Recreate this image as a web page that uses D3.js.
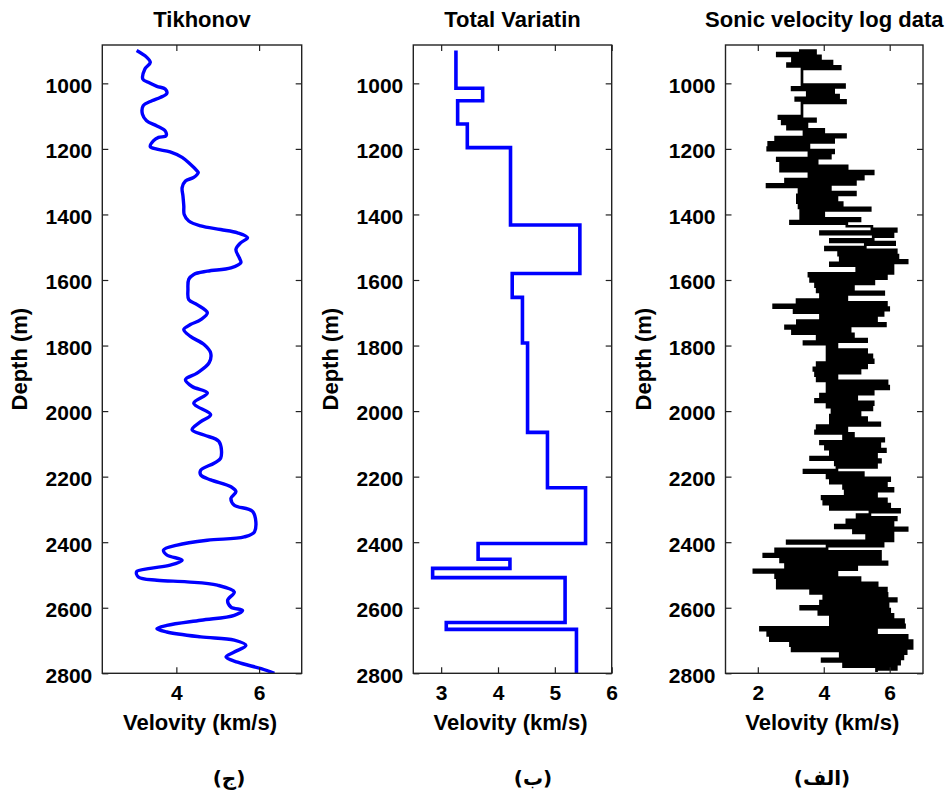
<!DOCTYPE html>
<html>
<head>
<meta charset="utf-8">
<script src="https://cdn.jsdelivr.net/npm/d3@7"></script>
<style>
  body { margin: 0; background: #fff; }
  svg { display: block; font-family: "Liberation Sans", Arial, sans-serif; }
</style>
</head>
<body>
<svg id="chart" width="952" height="794"></svg>
<script>
// ---- data -------------------------------------------------------------
const depthTicks = [1000, 1200, 1400, 1600, 1800, 2000, 2200, 2400, 2600, 2800];

// Tikhonov-regularised velocity profile (depth in m, velocity in km/s)
const tikDepth = [900, 920, 936, 956, 987, 997, 1009, 1017, 1031, 1043,
  1053, 1068, 1094, 1114, 1130, 1145, 1160, 1165, 1175, 1193,
  1201, 1209, 1226, 1247, 1267, 1272, 1287, 1298, 1318, 1344,
  1374, 1400, 1420, 1435, 1446, 1456, 1471, 1486, 1507, 1532,
  1547, 1563, 1573, 1583, 1598, 1629, 1660, 1675, 1700, 1721,
  1736, 1751, 1772, 1797, 1823, 1853, 1884, 1904, 1925, 1945,
  1976, 2011, 2032, 2057, 2073, 2093, 2144, 2159, 2180, 2195,
  2210, 2231, 2246, 2266, 2287, 2307, 2368, 2384, 2394, 2409,
  2424, 2439, 2455, 2470, 2480, 2490, 2506, 2516, 2521, 2531,
  2552, 2577, 2598, 2608, 2623, 2638, 2654, 2664, 2674, 2689,
  2699, 2715, 2735, 2750, 2766, 2786, 2800];
const tikVelocity = [3.04, 3.28, 3.37, 3.24, 3.19, 3.32, 3.53, 3.73, 3.77, 3.61,
  3.41, 3.20, 3.18, 3.28, 3.53, 3.73, 3.75, 3.57, 3.45, 3.37,
  3.53, 3.85, 4.14, 4.34, 4.50, 4.53, 4.42, 4.22, 4.14, 4.16,
  4.18, 4.19, 4.30, 4.59, 5.07, 5.48, 5.72, 5.56, 5.44, 5.52,
  5.56, 5.32, 4.75, 4.42, 4.30, 4.28, 4.30, 4.50, 4.75, 4.59,
  4.34, 4.18, 4.34, 4.67, 4.83, 4.79, 4.50, 4.22, 4.38, 4.75,
  4.42, 4.83, 4.59, 4.38, 4.67, 5.03, 5.07, 4.91, 4.59, 4.59,
  4.83, 5.32, 5.44, 5.32, 5.40, 5.85, 5.89, 5.64, 4.75, 4.02,
  3.69, 3.77, 4.14, 3.85, 3.37, 3.04, 3.08, 3.53, 4.26, 4.99,
  5.40, 5.24, 5.32, 5.60, 5.40, 4.59, 3.77, 3.53, 3.77, 4.59,
  5.40, 5.68, 5.40, 5.20, 5.48, 6.05, 6.37];

// Total-variation result: blocky layers (top depth of each layer, layer velocity)
const tvLayerTop = [900, 1015, 1053, 1124, 1196, 1432, 1580, 1653, 1792, 2065,
  2234, 2404, 2452, 2480, 2508, 2645, 2666];
const tvVelocity = [3.26, 3.73, 3.29, 3.46, 4.22, 5.44, 4.25, 4.43, 4.52, 4.87,
  5.54, 3.65, 4.21, 2.85, 5.18, 3.09, 5.38];
const tvBottom = 2800;

// Sonic log samples: every 8 m starting at 900 m
const sonicStart = 900, sonicStep = 8;
const sonicVelocity = [
  3.25, 3.75, 2.59, 3.9, 3.05, 4.25, 2.9, 4.5, 3.34, 3.34,      // 900
  3.34, 3.34, 3.34, 3.34, 4.63, 3.04, 4.3, 3.5, 4.45, 3.15,     // 980
  4.66, 3.34, 3.34, 3.34, 3.34, 3.34, 2.64, 3.75, 2.74, 3.49,   // 1060
  2.9, 4.0, 3.4, 4.66, 2.54, 4.3, 2.33, 3.55, 2.3, 4.3,         // 1140
  3.55, 4.2, 2.59, 3.8, 2.69, 4.71, 2.69, 5.5, 3.55, 5.2,       // 1220
  2.84, 4.96, 2.28, 4.2, 3.25, 4.96, 3.2, 4.4, 3.2, 4.56,       // 1300
  3.25, 5.41, 3.3, 4.0, 3.3, 5.1, 2.99, 4.7, 5.46, 6.2,         // 1380
  3.9, 6.1, 5.5, 4.2, 6.15, 5.26, 4.05, 6.2, 4.45, 6.25,        // 1460
  4.5, 6.53, 4.2, 6.1, 5.0, 6.1, 3.55, 5.9, 3.6, 5.52,          // 1540
  3.75, 4.9, 3.8, 5.82, 3.9, 4.7, 3.19, 5.9, 2.48, 5.97,        // 1620
  3.1, 5.8, 3.9, 5.6, 3.2, 5.87, 2.84, 4.8, 3.05, 4.9,          // 1700
  3.8, 5.3, 3.4, 4.4, 4.1, 5.3, 4.1, 5.46, 4.1, 5.5,            // 1780
  3.8, 5.3, 3.7, 5.1, 3.75, 4.4, 3.8, 5.92, 4.1, 5.97,          // 1860
  4.1, 5.5, 3.9, 5.0, 3.75, 5.5, 4.1, 5.46, 4.25, 5.1,          // 1940
  4.2, 5.3, 4.2, 5.7, 3.8, 4.7, 3.75, 4.9, 4.6, 5.82,           // 2020
  3.9, 5.7, 4.05, 5.87, 4.2, 5.6, 3.6, 5.72, 4.35, 5.6,         // 2100
  4.4, 3.4, 5.2, 4.1, 6.0, 4.2, 5.9, 4.6, 6.1, 4.65,            // 2180
  5.6, 3.95, 5.9, 4.0, 6.0, 4.2, 6.3, 5.4, 5.01, 6.2,           // 2260
  4.7, 6.1, 4.35, 6.53, 4.9, 6.1, 5.3, 6.1, 2.89, 5.8,          // 2340
  4.1, 2.54, 5.72, 2.18, 5.72, 2.69, 5.92, 2.84, 5.0, 1.88,     // 2420
  4.4, 2.54, 5.1, 2.59, 5.62, 2.59, 5.9, 3.6, 5.92, 4.0,        // 2500
  6.2, 3.9, 5.95, 3.3, 6.0, 3.85, 6.1, 4.2, 6.42, 4.2,          // 2580
  6.45, 2.08, 5.6, 2.3, 6.53, 2.38, 6.68, 2.99, 6.68, 3.04,     // 2660
  6.5, 4.5, 6.4, 3.95, 6.3, 4.6, 6.2, 5.6                       // 2740
];

const titles = ["Tikhonov", "Total Variatin", "Sonic velocity log data"];
const captions = ["(ج)", "(ب)", "(الف)"];
const xTickSets = [[4, 6], [3, 4, 5, 6], [2, 4, 6]];
const xDomains = [[2.21, 7.03], [2.51, 6.0], [1.02, 7.01]];
const xLabel = "Velovity (km/s)";
const yLabel = "Depth (m)";
const depthDomain = [883, 2800];

// ---- build series -----------------------------------------------------
const tikSeries = tikDepth.map((d, i) => ({ d, v: tikVelocity[i] }));

const tvSeries = [];
tvLayerTop.forEach((layerTop, i) => {
  const layerBottom = i + 1 < tvLayerTop.length ? tvLayerTop[i + 1] : tvBottom;
  tvSeries.push({ d: layerTop, v: tvVelocity[i] });
  tvSeries.push({ d: layerBottom, v: tvVelocity[i] });
});

const sonicSeries = sonicVelocity.map((v, i) => ({ d: sonicStart + i * sonicStep, v }));

// ---- layout -----------------------------------------------------------
const plotTop = 45, plotBottom = 673.3;
const panelLeft = [102.3, 413.3, 725.5];
const panelRight = [301.7, 611.7, 923.0];
const captionX = [229, 533, 822];

const svg = d3.select("#chart");
svg.append("rect").attr("width", 952).attr("height", 794).attr("fill", "#fff");

const yScale = d3.scaleLinear().domain(depthDomain).range([plotTop, plotBottom]);

// the log is drawn as horizontal excursions at each sample depth
const panels = [
  { series: tikSeries, color: "#0000ff", width: 3.4, curve: d3.curveCatmullRom.alpha(0.5), join: "round" },
  { series: tvSeries, color: "#0000ff", width: 3.6, curve: d3.curveLinear, join: "miter" },
  { series: sonicSeries, color: "#000000", width: 2.7, curve: d3.curveStepAfter, join: "miter" }
];

panels.forEach((p, k) => {
  const xScale = d3.scaleLinear().domain(xDomains[k]).range([panelLeft[k], panelRight[k]]);
  const g = svg.append("g");
  const w = panelRight[k] - panelLeft[k];

  const clipId = "clip" + k;
  svg.append("clipPath").attr("id", clipId)
    .append("rect").attr("x", panelLeft[k]).attr("y", plotTop)
    .attr("width", w).attr("height", plotBottom - plotTop);

  // data trace
  const line = d3.line().x(d => xScale(d.v)).y(d => yScale(d.d)).curve(p.curve);
  g.append("path")
    .datum(p.series)
    .attr("clip-path", `url(#${clipId})`)
    .attr("d", line)
    .attr("fill", "none")
    .attr("stroke", p.color)
    .attr("stroke-width", p.width)
    .attr("stroke-linejoin", p.join)
    .attr("stroke-linecap", "butt");

  // axes (ticks pointing inward on all four sides)
  const styleAxis = sel => {
    sel.select(".domain").remove();
    sel.selectAll(".tick line").attr("stroke", "#222").attr("stroke-width", 1.2);
    sel.selectAll(".tick text")
      .attr("fill", "#000")
      .attr("font-size", 21)
      .attr("font-weight", "bold");
  };

  g.append("g").attr("transform", `translate(${panelLeft[k]},0)`)
    .call(d3.axisLeft(yScale).tickValues(depthTicks).tickSize(-6).tickPadding(10).tickFormat(d3.format("d")))
    .call(styleAxis)
    .call(s => s.selectAll(".tick text").attr("dy", "0.42em"));

  g.append("g").attr("transform", `translate(${panelRight[k]},0)`)
    .call(d3.axisRight(yScale).tickValues(depthTicks).tickSize(-6).tickFormat(""))
    .call(styleAxis);

  g.append("g").attr("transform", `translate(0,${plotBottom})`)
    .call(d3.axisBottom(xScale).tickValues(xTickSets[k]).tickSize(-6).tickPadding(12).tickFormat(d3.format("d")))
    .call(styleAxis);

  g.append("g").attr("transform", `translate(0,${plotTop})`)
    .call(d3.axisTop(xScale).tickValues(xTickSets[k]).tickSize(-6).tickFormat(""))
    .call(styleAxis);

  // frame
  g.append("rect")
    .attr("x", panelLeft[k]).attr("y", plotTop)
    .attr("width", w).attr("height", plotBottom - plotTop)
    .attr("fill", "none").attr("stroke", "#222").attr("stroke-width", 1.4);

  const cx = (panelLeft[k] + panelRight[k]) / 2;

  // title
  g.append("text")
    .attr("x", cx).attr("y", 27)
    .attr("text-anchor", "middle")
    .attr("font-size", 22).attr("font-weight", "bold").attr("fill", "#000")
    .text(titles[k]);

  // x label
  g.append("text")
    .attr("x", cx - 2).attr("y", 730)
    .attr("text-anchor", "middle")
    .attr("font-size", 22).attr("font-weight", "bold").attr("fill", "#000")
    .text(xLabel);

  // y label
  g.append("text")
    .attr("transform", `translate(${panelLeft[k] - 75},${(plotTop + plotBottom) / 2}) rotate(-90)`)
    .attr("text-anchor", "middle")
    .attr("font-size", 22).attr("font-weight", "bold").attr("fill", "#000")
    .text(yLabel);

  // panel caption
  g.append("text")
    .attr("x", captionX[k]).attr("y", 785)
    .attr("text-anchor", "middle")
    .attr("font-family", "'DejaVu Sans', sans-serif")
    .attr("font-size", 20).attr("font-weight", "bold").attr("fill", "#000")
    .text(captions[k]);
});
</script>
</body>
</html>
